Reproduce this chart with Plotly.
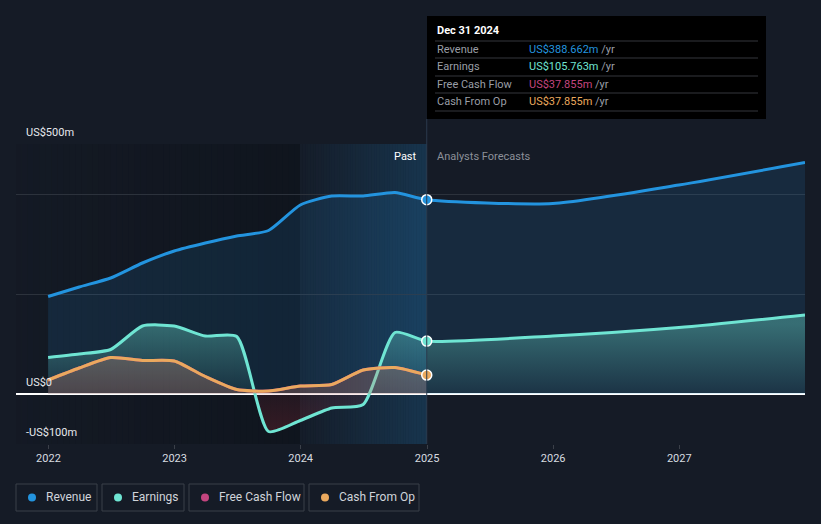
import plotly.graph_objects as go

# ─── Data (US$ m) ───────────────────────────────────────────────────────────────

past_dates = ["2021-12-31", "2022-03-31", "2022-06-30", "2022-09-30", "2022-12-31",
              "2023-03-31", "2023-06-30", "2023-09-30", "2023-12-31",
              "2024-03-31", "2024-06-30", "2024-09-30", "2024-12-31"]
revenue_past = [195, 214, 232, 262, 286, 302, 316, 327, 378, 396, 396, 403, 388.662]
earnings_past = [73, 80, 89, 136, 136, 116, 115, -75, -53, -28, -21, 123, 105.763]
fcf_past = [28, 52, 73, 67, 66, 35, 9, 6, 16, 19, 48, 53, 37.855]
cfo_past = [28, 52, 73, 67, 66, 35, 9, 6, 16, 19, 48, 53, 37.855]

fc_dates = ["2024-12-31", "2025-12-31", "2026-12-31", "2027-12-31"]
revenue_fc = [388.662, 381, 418, 463]
earnings_fc = [105.763, 116, 133, 158]

year_ticks = ["2022-01-01", "2023-01-01", "2024-01-01", "2025-01-01", "2026-01-01", "2027-01-01"]
year_labels = ["2022", "2023", "2024", "2025", "2026", "2027"]
grid_vals = [-100, 0, 200, 400, 500]

# ─── Palette ────────────────────────────────────────────────────────────────────

COLORS = {
    "bg": "#151b26",
    "grid": "#2c323c",
    "text": "#e6e9ed",
    "muted": "#8c9099",
    "revenue": "#2394df",
    "earnings": "#6fe5d3",
    "fcf": "#c4457f",
    "cfo": "#eaa95e",
}

W, H = 821, 524
L, R, T, B = 16, 16, 144, 80
PW, PH = W - L - R, H - T - B


def px_x(px):
    return (px - L) / PW


def px_y(py):
    return (H - B - py) / PH


fig = go.Figure()

# revenue
fig.add_trace(go.Scatter(
    x=past_dates + fc_dates[1:], y=revenue_past + revenue_fc[1:],
    mode="lines", name="Revenue", line=dict(color=COLORS["revenue"], width=3, shape="spline", smoothing=0.6),
    fill="tozeroy", fillcolor="rgba(35,148,223,0.13)", hoverinfo="skip",
))
# earnings
fig.add_trace(go.Scatter(
    x=past_dates + fc_dates[1:], y=earnings_past + earnings_fc[1:],
    mode="lines", name="Earnings", line=dict(color=COLORS["earnings"], width=3, shape="spline", smoothing=0.6),
    fill="tozeroy",
    fillgradient=dict(
        type="vertical", start=-100, stop=140,
        colorscale=[[0, "rgba(200,50,60,0.24)"], [0.416, "rgba(200,50,60,0.10)"],
                    [0.417, "rgba(111,229,211,0.05)"], [1, "rgba(111,229,211,0.36)"]],
    ),
    hoverinfo="skip",
))
# free cash flow (hidden under cash from op)
fig.add_trace(go.Scatter(
    x=past_dates, y=fcf_past, mode="lines", name="Free Cash Flow",
    line=dict(color=COLORS["fcf"], width=3, shape="spline", smoothing=0.6),
    fill="tozeroy", fillcolor="rgba(196,69,127,0.12)", hoverinfo="skip",
))
# cash from op
fig.add_trace(go.Scatter(
    x=past_dates, y=cfo_past, mode="lines", name="Cash From Op",
    line=dict(color=COLORS["cfo"], width=3, shape="spline", smoothing=0.6),
    fill="tozeroy", fillcolor="rgba(234,169,94,0.16)", hoverinfo="skip",
))

# hover markers at the last reported point
for series, col in [(revenue_past, "revenue"), (earnings_past, "earnings"), (cfo_past, "cfo")]:
    fig.add_trace(go.Scatter(
        x=[past_dates[-1]], y=[series[-1]], mode="markers", showlegend=False, hoverinfo="skip",
        marker=dict(color=COLORS[col], size=10, line=dict(color="white", width=1.5)),
    ))

# ─── Background bands (strips to fake gradients) ───────────────────────────────

shapes = []
n = 48
for i in range(n):
    x0 = px_x(L + (300 - L) * i / n)
    x1 = px_x(L + (300 - L) * (i + 1) / n)
    shapes.append(dict(type="rect", xref="paper", yref="paper", x0=x0, x1=x1, y0=0, y1=1,
                       fillcolor=f"rgba(5,8,12,{0.04 + 0.26 * i / n:.3f})", line_width=0, layer="below"))
for i in range(n):
    x0 = px_x(300 + 127 * i / n)
    x1 = px_x(300 + 127 * (i + 1) / n)
    shapes.append(dict(type="rect", xref="paper", yref="paper", x0=x0, x1=x1, y0=0, y1=1,
                       fillcolor=f"rgba(35,148,223,{0.02 + 0.2 * i / n:.3f})", line_width=0, layer="below"))

# hover line
shapes.append(dict(type="line", xref="x", yref="paper", x0=past_dates[-1], x1=past_dates[-1],
                   y0=0, y1=px_y(119), line=dict(color="#2a3a4c", width=1)))

# tooltip box
shapes.append(dict(type="rect", xref="paper", yref="paper", x0=px_x(427), x1=px_x(766),
                   y0=px_y(119), y1=px_y(16), fillcolor="#000000", line_width=0))
for py in [41, 58, 76, 93, 111]:
    shapes.append(dict(type="line", xref="paper", yref="paper", x0=px_x(435), x1=px_x(758),
                       y0=px_y(py), y1=px_y(py), line=dict(color="#34373c", width=1)))

annotations = []
annotations.append(dict(xref="paper", yref="paper", x=px_x(435), y=px_y(31), text="<b>Dec 31 2024</b>",
                        showarrow=False, xanchor="left", yanchor="middle",
                        font=dict(color="#ffffff", size=11)))
rows = [("Revenue", revenue_past[-1], "revenue"), ("Earnings", earnings_past[-1], "earnings"),
        ("Free Cash Flow", fcf_past[-1], "fcf"), ("Cash From Op", cfo_past[-1], "cfo")]
for k, (lab, val, col) in enumerate(rows):
    yy = px_y(49 + k * 17.5)
    annotations.append(dict(xref="paper", yref="paper", x=px_x(435), y=yy, text=lab, showarrow=False,
                            xanchor="left", yanchor="middle", font=dict(color="#9a9ea6", size=11)))
    annotations.append(dict(xref="paper", yref="paper", x=px_x(527), y=yy,
                            text=f"<span style='color:{COLORS[col]}'>US${val:.3f}m</span> /yr",
                            showarrow=False, xanchor="left", yanchor="middle",
                            font=dict(color="#9a9ea6", size=11)))

# y labels
for val, lab in [(500, "US$500m"), (0, "US$0"), (-100, "-US$100m")]:
    annotations.append(dict(xref="paper", yref="y", x=px_x(24), y=val, yshift=12, text=lab,
                            showarrow=False, xanchor="left", yanchor="middle",
                            font=dict(color=COLORS["text"], size=11)))

# past / forecast labels
annotations.append(dict(xref="x", yref="paper", x=past_dates[-1], y=px_y(156), xshift=-8, text="Past",
                        showarrow=False, xanchor="right", yanchor="middle",
                        font=dict(color="#ffffff", size=11)))
annotations.append(dict(xref="x", yref="paper", x=past_dates[-1], y=px_y(156), xshift=8,
                        text="Analysts Forecasts", showarrow=False, xanchor="left", yanchor="middle",
                        font=dict(color=COLORS["muted"], size=11)))

# legend boxes
legend_items = [("Revenue", "revenue", 16, 97), ("Earnings", "earnings", 102, 184),
                ("Free Cash Flow", "fcf", 189, 304), ("Cash From Op", "cfo", 309, 419)]
for lab, col, x0, x1 in legend_items:
    shapes.append(dict(type="rect", xref="paper", yref="paper", x0=px_x(x0), x1=px_x(x1),
                       y0=px_y(511), y1=px_y(484), line=dict(color="#3b4049", width=1),
                       fillcolor="rgba(0,0,0,0)"))
    shapes.append(dict(type="circle", xref="paper", yref="paper", x0=px_x(x0 + 12), x1=px_x(x0 + 20),
                       y0=px_y(501.5), y1=px_y(493.5), line_width=0, fillcolor=COLORS[col]))
    annotations.append(dict(xref="paper", yref="paper", x=px_x(x0 + 28), y=px_y(497), text=lab,
                            showarrow=False, xanchor="left", yanchor="middle",
                            font=dict(color="#d0d4da", size=12)))

fig.update_layout(
    width=W, height=H,
    margin=dict(l=L, r=R, t=T, b=B),
    paper_bgcolor=COLORS["bg"], plot_bgcolor=COLORS["bg"],
    font=dict(family="Roboto, sans-serif", color=COLORS["text"]),
    showlegend=False,
    xaxis=dict(range=["2021-09-29", "2027-12-31"], tickvals=year_ticks, ticktext=year_labels,
               showgrid=False, zeroline=False, ticks="outside", ticklen=4, tickcolor="#3b4049",
               tickfont=dict(color="#d7dbe0", size=11), showline=False),
    yaxis=dict(range=[-100, 500], tickvals=grid_vals, showticklabels=False, showgrid=True,
               gridcolor=COLORS["grid"], gridwidth=1, zeroline=True, zerolinecolor="#ffffff",
               zerolinewidth=1.5),
    shapes=shapes,
    annotations=annotations,
)

# page body has a default 8px margin; drop it so the chart sits at 0,0
fig.write_html("out.html", config={"displayModeBar": False},
               post_script="document.body.style.margin='0px';")
